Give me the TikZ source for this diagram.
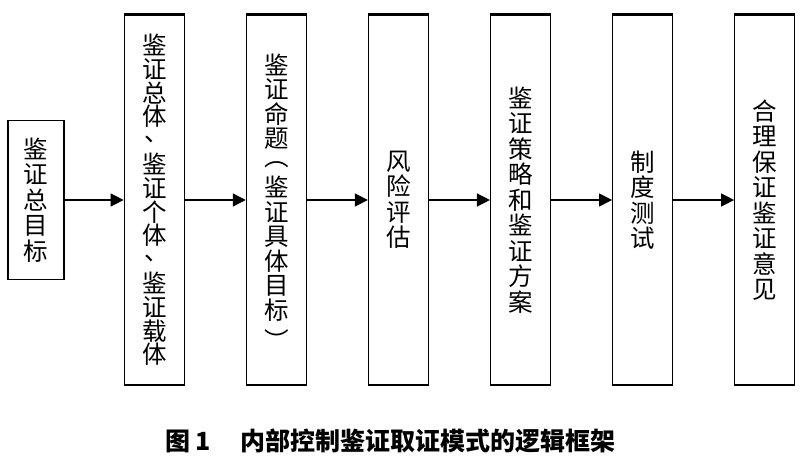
\documentclass[tikz,border=0pt]{standalone}
\usepackage{fontspec}
\usepackage{graphicx}
\setmainfont{Noto Sans CJK SC}
\usetikzlibrary{positioning,arrows.meta}
\pgfmathsetmacro{\stagegap}{60.8}
\pgfmathsetmacro{\stagemid}{266}
% vertical punctuation
\newcommand{\vcomma}{\makebox[1em]{\hspace*{0.2em}\raisebox{0.32em}[0.8em][0.1em]{、}}}
\newcommand{\vopen}{\raisebox{0.27em}[0.8em][0.1em]{\rotatebox[origin=c]{-90}{（}}}
\newcommand{\vclose}{\raisebox{-0.27em}[0.8em][0.1em]{\rotatebox[origin=c]{-90}{）}}}
\tikzset{
  stage/.style={draw, line width=1.3pt, minimum width=60pt, minimum height=370pt,
    inner sep=0pt, align=center, font=\fontsize{24.5}{25.5}\selectfont},
  goalbox/.style={stage, minimum width=56pt, minimum height=159pt},
  flow/.style={-{Triangle[length=13pt,width=13pt]}, line width=1.3pt},
}

\begin{document}
\begin{tikzpicture}[x=1pt, y=1pt]
    \useasboundingbox (0,0) rectangle (800,466);
    % define stages
    \node[goalbox] (goal) at (36,\stagemid) {鉴\\证\\总\\目\\标};
    \node[stage, right=59pt of goal, font=\fontsize{24.5}{23.8}\selectfont] (body)
        {鉴\\证\\总\\体\\\vcomma\\鉴\\证\\个\\体\\\vcomma\\鉴\\证\\载\\体};
    \node[stage, right=\stagegap pt of body, font=\fontsize{24.5}{24.5}\selectfont] (claim)
        {鉴\\证\\命\\题\\\vopen\\鉴\\证\\具\\体\\目\\标\\\vclose};
    \node[stage, right=\stagegap pt of claim] (risk) {风\\险\\评\\估};
    \node[stage, right=\stagegap pt of risk] (plan) {鉴\\证\\策\\略\\和\\鉴\\证\\方\\案};
    \node[stage, right=\stagegap pt of plan] (test) {制\\度\\测\\试};
    \node[stage, right=\stagegap pt of test] (opinion) {合\\理\\保\\证\\鉴\\证\\意\\见};
    % heavier top edges
    \foreach \s in {body, claim, risk, plan, test, opinion}
        \draw[line width=3pt] (\s.north west) -- (\s.north east);
    % draw flow
    \draw[flow] (goal) -- (body);
    \draw[flow] (body) -- (claim);
    \draw[flow] (claim) -- (risk);
    \draw[flow] (risk) -- (plan);
    \draw[flow] (plan) -- (test);
    \draw[flow] (test) -- (opinion);
    % add caption
    \node[anchor=west, inner sep=0pt, font=\fontsize{25}{25}\selectfont\bfseries] (fignum)
        at (165,25) {图 1};
    \node[anchor=west, inner sep=0pt, font=\fontsize{25}{25}\selectfont\bfseries] (caption)
        at (240,25) {内部控制鉴证取证模式的逻辑框架};
\end{tikzpicture}
\end{document}
